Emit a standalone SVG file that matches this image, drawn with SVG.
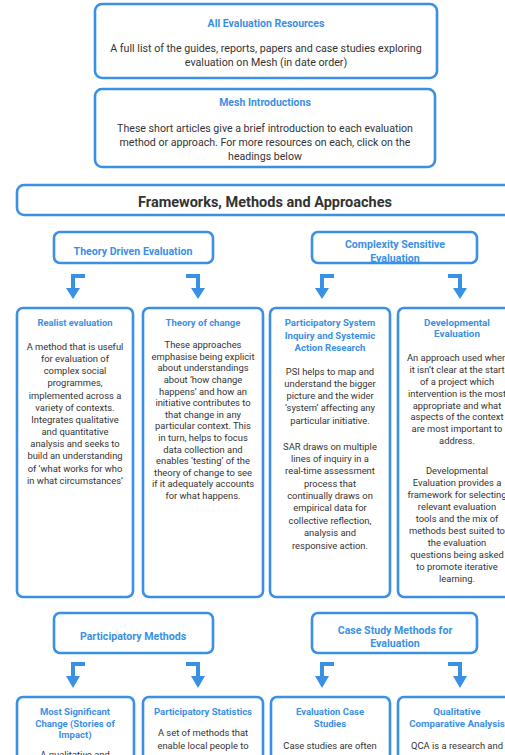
<svg xmlns="http://www.w3.org/2000/svg" width="505" height="755" viewBox="0 0 505 755">
<style>
.box{fill:#fff;stroke:#3a90e5;stroke-width:2.6}
.t{font-family:Roboto,"Liberation Sans",sans-serif;font-weight:bold;fill:#3a90e5;text-anchor:middle}
.b{font-family:Roboto,"Liberation Sans",sans-serif;fill:#333;text-anchor:middle}
.arr{fill:none;stroke:#3a90e5;stroke-width:4}
.head{fill:#3a90e5}
</style>
<rect width="505" height="755" fill="#fff"/>
<g id="all-resources">
<rect class="box" x="95" y="4" width="342" height="74" rx="7"/>
<text class="t" x="266" y="27" font-size="10.5">All Evaluation Resources</text>
<text class="b" x="266" y="52" font-size="10.7">A full list of the guides, reports, papers and case studies exploring</text>
<text class="b" x="266" y="66" font-size="10.7">evaluation on Mesh (in date order)</text>
</g>
<g id="mesh-intro">
<rect class="box" x="95" y="89" width="340" height="78" rx="7"/>
<text class="t" x="265" y="106" font-size="10.5">Mesh Introductions</text>
<text class="b" x="265" y="132" font-size="10.6">These short articles give a brief introduction to each evaluation</text>
<text class="b" x="265" y="146" font-size="10.6">method or approach. For more resources on each, click on the</text>
<text class="b" x="265" y="160" font-size="10.6">headings below</text>
</g>
<g id="frameworks">
<rect class="box" x="17" y="185" width="500" height="30" rx="7"/>
<text x="265" y="207" font-size="14.5" font-weight="bold" fill="#333" text-anchor="middle" font-family="Roboto,'Liberation Sans',sans-serif">Frameworks, Methods and Approaches</text>
</g>
<g id="theory-driven">
<rect class="box" x="54" y="232" width="159" height="31" rx="6"/>
<text class="t" x="133" y="255" font-size="10.6">Theory Driven Evaluation</text>
</g>
<g id="complexity">
<rect class="box" x="312" y="232" width="165" height="31" rx="6"/>
<text class="t" x="395" y="248" font-size="10.6">Complexity Sensitive</text>
<text class="t" x="395" y="262" font-size="10.6" text-decoration="underline">Evaluation</text>
</g>
<g id="realist">
<rect class="box" x="17" y="308" width="116" height="289" rx="6"/>
<text class="t" x="75" y="326" font-size="9.4">Realist evaluation</text>
<g class="b" font-size="9.4">
<text x="75" y="350">A method that is useful</text>
<text x="75" y="362">for evaluation of</text>
<text x="75" y="374">complex social</text>
<text x="75" y="386">programmes,</text>
<text x="75" y="399">implemented across a</text>
<text x="75" y="411">variety of contexts.</text>
<text x="75" y="423">Integrates qualitative</text>
<text x="75" y="435">and quantitative</text>
<text x="75" y="447">analysis and seeks to</text>
<text x="75" y="459">build an understanding</text>
<text x="75" y="472">of ‘what works for who</text>
<text x="75" y="484">in what circumstances’</text>
</g>
</g>
<g id="theory-of-change">
<rect class="box" x="143" y="308" width="120" height="289" rx="6"/>
<text class="t" x="203" y="326" font-size="9.5">Theory of change</text>
<g class="b" font-size="9.4">
<text x="203" y="348">These approaches</text>
<text x="203" y="360">emphasise being explicit</text>
<text x="203" y="371">about understandings</text>
<text x="203" y="383">about ‘how change</text>
<text x="203" y="395">happens’ and how an</text>
<text x="203" y="406">initiative contributes to</text>
<text x="203" y="418">that change in any</text>
<text x="203" y="429">particular context. This</text>
<text x="203" y="441">in turn, helps to focus</text>
<text x="203" y="453">data collection and</text>
<text x="203" y="464">enables ‘testing’ of the</text>
<text x="203" y="476">theory of change to see</text>
<text x="203" y="487">if it adequately accounts</text>
<text x="203" y="499">for what happens.</text>
</g>
</g>
<g id="psi-sar">
<rect class="box" x="270" y="308" width="120" height="289" rx="6"/>
<text class="t" x="330" y="326" font-size="9.6">Participatory System</text>
<text class="t" x="330" y="339" font-size="9.6">Inquiry and Systemic</text>
<text class="t" x="330" y="351" font-size="9.6">Action Research</text>
<g class="b" font-size="9.4">
<text x="330" y="375">PSI helps to map and</text>
<text x="330" y="387">understand the bigger</text>
<text x="330" y="399">picture and the wider</text>
<text x="330" y="411">‘system’ affecting any</text>
<text x="330" y="424">particular initiative.</text>
<text x="330" y="450">SAR draws on multiple</text>
<text x="330" y="462">lines of inquiry in a</text>
<text x="330" y="474">real-time assessment</text>
<text x="330" y="487">process that</text>
<text x="330" y="499">continually draws on</text>
<text x="330" y="511">empirical data for</text>
<text x="330" y="524">collective reflection,</text>
<text x="330" y="536">analysis and</text>
<text x="330" y="549">responsive action.</text>
</g>
</g>
<g id="developmental">
<rect class="box" x="398" y="308" width="122" height="289" rx="6"/>
<text class="t" x="457" y="326" font-size="9.8">Developmental</text>
<text class="t" x="457" y="337" font-size="9.8">Evaluation</text>
<g class="b" font-size="9.4">
<text x="457" y="361">An approach used when</text>
<text x="457" y="373">it isn’t clear at the start</text>
<text x="457" y="385">of a project which</text>
<text x="457" y="397">intervention is the most</text>
<text x="457" y="409">appropriate and what</text>
<text x="457" y="420">aspects of the context</text>
<text x="457" y="432">are most important to</text>
<text x="457" y="444">address.</text>
<text x="457" y="474">Developmental</text>
<text x="457" y="486">Evaluation provides a</text>
<text x="457" y="498">framework for selecting</text>
<text x="457" y="510">relevant evaluation</text>
<text x="457" y="522">tools and the mix of</text>
<text x="457" y="534">methods best suited to</text>
<text x="457" y="546">the evaluation</text>
<text x="457" y="558">questions being asked</text>
<text x="457" y="570">to promote iterative</text>
<text x="457" y="582">learning.</text>
</g>
</g>
<g id="participatory-methods">
<rect class="box" x="54" y="613" width="159" height="40" rx="6"/>
<text class="t" x="133" y="640" font-size="10.6">Participatory Methods</text>
</g>
<g id="case-study-methods">
<rect class="box" x="312" y="613" width="165" height="40" rx="6"/>
<text class="t" x="395" y="634" font-size="10.6">Case Study Methods for</text>
<text class="t" x="395" y="647" font-size="10.6">Evaluation</text>
</g>
<g id="msc">
<rect class="box" x="17" y="697" width="117" height="80" rx="6"/>
<text class="t" x="75" y="715" font-size="9.5">Most Significant</text>
<text class="t" x="75" y="727" font-size="9.5">Change (Stories of</text>
<text class="t" x="75" y="738" font-size="9.5">Impact)</text>
<text class="b" x="75" y="758" font-size="9.4">A qualitative and</text>
</g>
<g id="participatory-statistics">
<rect class="box" x="143" y="697" width="120" height="80" rx="6"/>
<text class="t" x="203" y="715" font-size="9.5">Participatory Statistics</text>
<text class="b" x="203" y="736" font-size="9.4">A set of methods that</text>
<text class="b" x="203" y="749" font-size="9.4">enable local people to</text>
</g>
<g id="evaluation-case-studies">
<rect class="box" x="271" y="697" width="119" height="80" rx="6"/>
<text class="t" x="330" y="715" font-size="9.5">Evaluation Case</text>
<text class="t" x="330" y="727" font-size="9.5">Studies</text>
<text class="b" x="330" y="749" font-size="9.4">Case studies are often</text>
</g>
<g id="qca">
<rect class="box" x="398" y="697" width="122" height="80" rx="6"/>
<text class="t" x="457" y="715" font-size="9.8">Qualitative</text>
<text class="t" x="457" y="727" font-size="9.8">Comparative Analysis</text>
<text class="b" x="457" y="749" font-size="9.4">QCA is a research and</text>
</g>
<g id="connectors">
<path class="arr" d="M85 276H73V290M186 276H198V290M334 276H322V290M448 276H460V290"/>
<path class="head" d="M66 288H80L73 299ZM191 288H205L198 299ZM315 288H329L322 299ZM453 288H467L460 299Z"/>
<path class="arr" d="M85 664H73V678M186 664H198V678M334 664H322V678M448 664H460V678"/>
<path class="head" d="M66 676H80L73 688ZM191 676H205L198 688ZM315 676H329L322 688ZM453 676H467L460 688Z"/>
</g>
</svg>
